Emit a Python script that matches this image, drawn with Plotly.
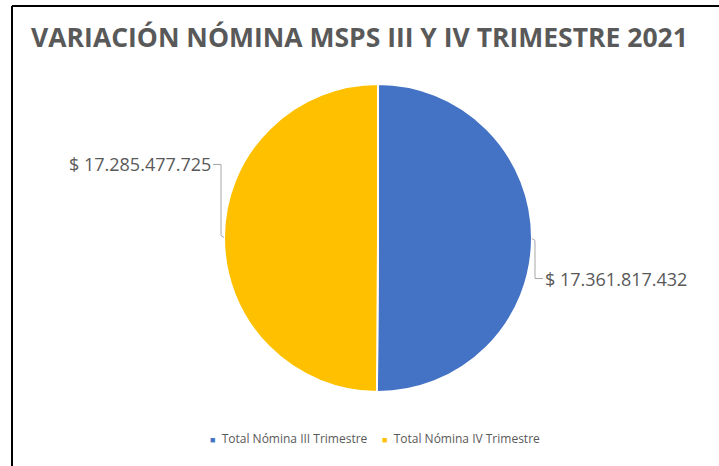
import math
import plotly.graph_objects as go

W, H = 719, 466

categories = ["Total Nómina III Trimestre", "Total Nómina IV Trimestre"]
values = [17361817432, 17285477725]
colors = ["#4472C4", "#FFC000"]
title = "VARIACIÓN NÓMINA MSPS III Y IV TRIMESTRE 2021"


def fmt(v):
    return "$ " + f"{v:,}".replace(",", ".")


# pie placement (pixels)
cx, cy, r = 378, 238, 154
dom_x = [(cx - r) / W, (cx + r) / W]
dom_y = [(H - (cy + r)) / H, (H - (cy - r)) / H]

fig = go.Figure(go.Pie(
    labels=categories, values=values, sort=False, direction="clockwise",
    rotation=0, marker=dict(colors=colors, line=dict(color="white", width=2)),
    textinfo="none", hoverinfo="label+value", domain=dict(x=dom_x, y=dom_y),
    showlegend=False,
))

shapes = []
annotations = []
total = sum(values)
start = 0.0
label_dy = [40, -73]
for i, v in enumerate(values):
    frac = v / total
    mid = start + frac / 2
    start += frac
    ang = math.radians(90 - mid * 360)
    ex = cx + r * math.cos(ang)
    ey = cy - r * math.sin(ang)
    side = 1 if math.cos(ang) >= 0 else -1
    dy = label_dy[i]
    lx = ex + side * 3
    ly = ey + dy
    tx = lx + side * 8
    pts = [(ex, ey), (lx, ey + (2 if dy > 0 else -2)), (lx, ly), (tx, ly)]
    path = "M " + " L ".join(f"{x / W},{1 - y / H}" for x, y in pts)
    shapes.append(dict(type="path", xref="paper", yref="paper", path=path,
                       line=dict(color="#A6A6A6", width=1)))
    annotations.append(dict(
        x=tx / W, y=1 - ly / H, xref="paper", yref="paper",
        text=fmt(v), showarrow=False,
        xanchor="left" if side > 0 else "right", yanchor="middle",
        font=dict(family="Open Sans, sans-serif", size=18, color="#595959"),
    ))

# legend drawn as text entries with colored square glyphs
legend_x = [208, 380]
for name, col, lx in zip(categories, colors, legend_x):
    annotations.append(dict(
        x=lx / W, y=1 - 438 / H, xref="paper", yref="paper", showarrow=False,
        xanchor="left", yanchor="middle",
        text=f"<span style='color:{col};font-size:9px'>■</span>  {name}",
        font=dict(family="Open Sans, sans-serif", size=12, color="#595959"),
    ))

# frame lines (left and top)
shapes.append(dict(type="line", xref="paper", yref="paper",
                   x0=12 / W, x1=1.01, y0=1 - 6 / H, y1=1 - 6 / H,
                   line=dict(color="black", width=2)))
shapes.append(dict(type="line", xref="paper", yref="paper",
                   x0=12 / W, x1=12 / W, y0=-0.01, y1=1 - 6 / H,
                   line=dict(color="black", width=2)))

fig.update_layout(
    width=W, height=H, margin=dict(l=0, r=0, t=0, b=0),
    paper_bgcolor="white", plot_bgcolor="white",
    title=dict(text="<b>" + title + "</b>", x=0.5, xanchor="center",
               y=1 - 38 / H, yanchor="middle",
               font=dict(family="Open Sans, sans-serif", size=26.5, color="#595959")),
    shapes=shapes, annotations=annotations,
)

fig.write_html("out.html", config={"displayModeBar": False},
               post_script="document.body.style.margin='0';")
